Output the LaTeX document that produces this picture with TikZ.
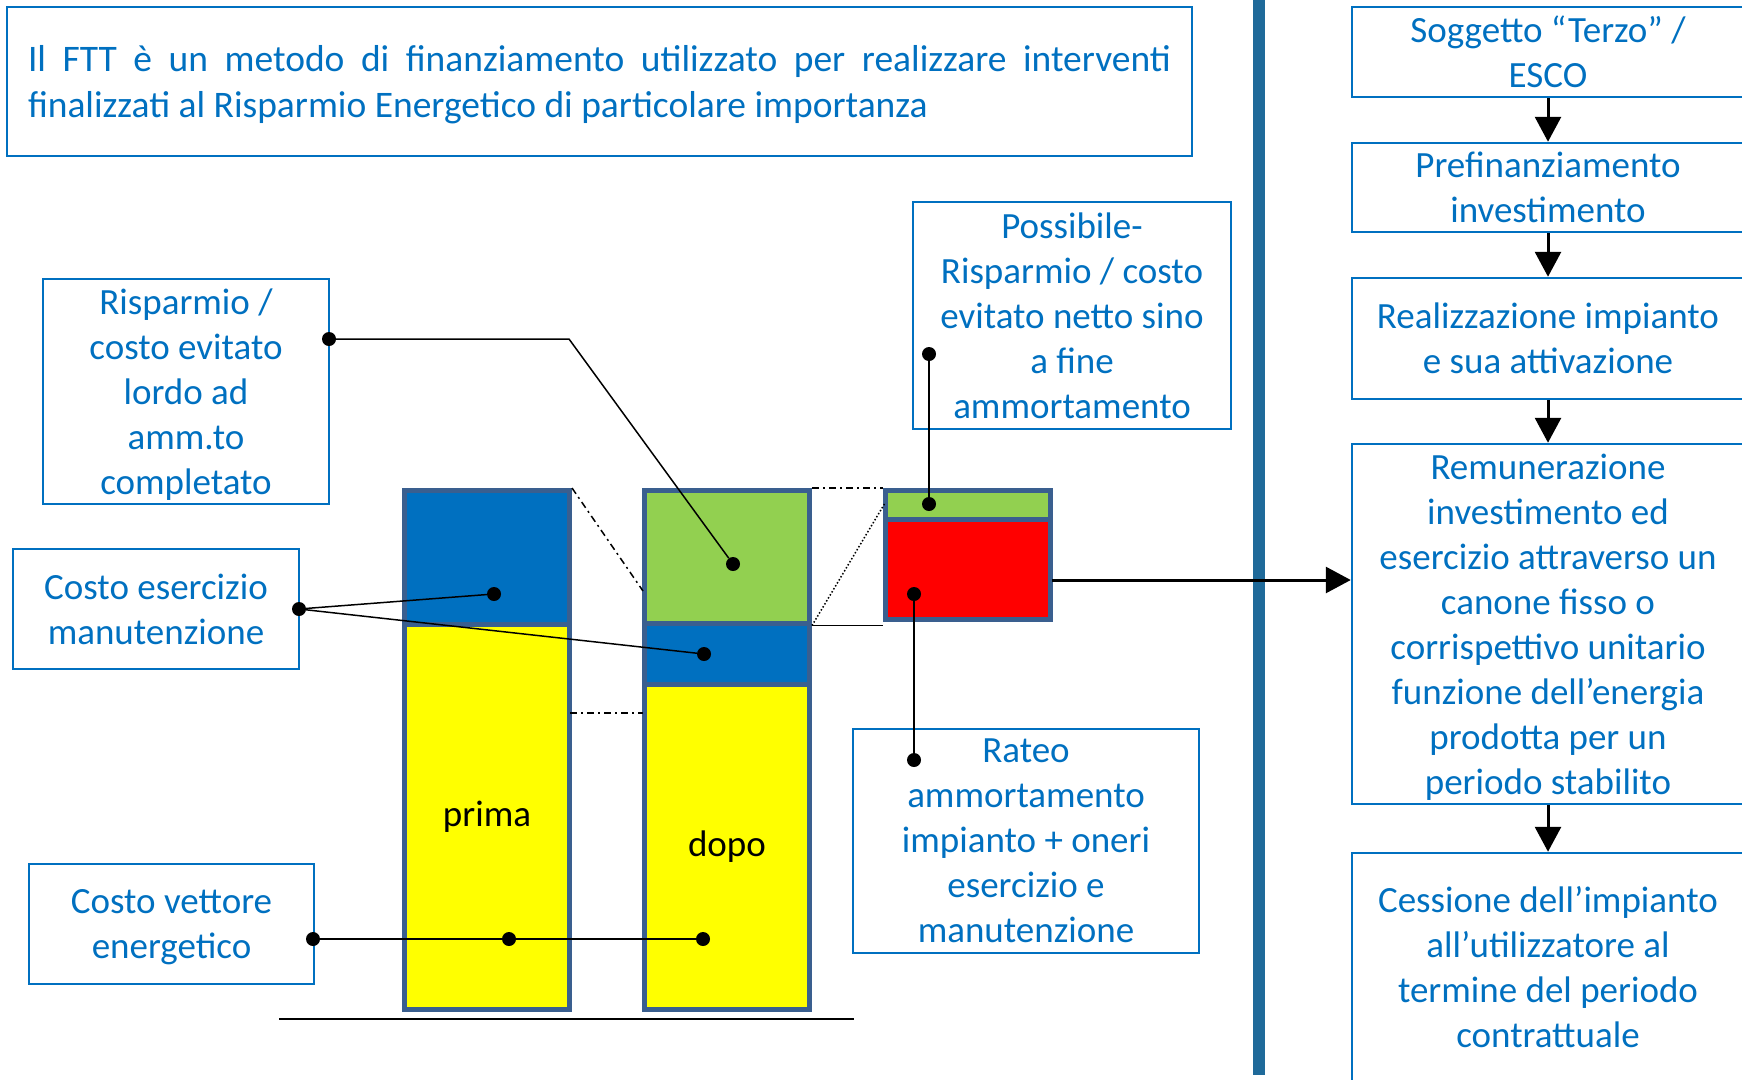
\documentclass[tikz,border=0pt]{standalone}
\usepackage{fontspec}
\setmainfont{Carlito}
\usetikzlibrary{arrows.meta}

\definecolor{testo}{HTML}{0070C0}
\definecolor{bordo}{HTML}{3A5F8F}
\definecolor{barBlu}{HTML}{0070C0}
\definecolor{barVerde}{HTML}{92D050}
\definecolor{barGiallo}{HTML}{FFFF00}
\definecolor{barRosso}{HTML}{FF0000}
\definecolor{separa}{HTML}{1F6A9A}

\tikzset{
  riquadro/.style={draw=testo, line width=2.5pt, text=testo, align=center, inner sep=0pt, text depth=0pt, font=\fontsize{37}{45}\selectfont},
  barra/.style={draw=bordo, line width=5pt, inner sep=0pt, minimum width=165pt, font=\fontsize{37}{45}\selectfont},
  punto/.style={circle, fill=black, inner sep=0pt, minimum size=14pt},
  filo/.style={line width=1.5pt},
  freccia/.style={line width=3pt, -{Triangle[width=26pt,length=25pt]}},
  tratto/.style={line width=1.5pt, dash pattern=on 7pt off 4pt on 2pt off 4pt},
}

\begin{document}
\begin{tikzpicture}[x=1pt, y=-1pt]
\clip (0,0) rectangle (1742,1079);
\useasboundingbox (0,0) rectangle (1742,1079);

\fill[separa] (1253,0) rectangle (1265,1075);

\node[riquadro, align=justify, text width=1143pt, text depth=45.5pt, minimum width=1185pt, minimum height=149pt,
  font=\fontsize{37.5}{45.5}\selectfont] (intro) at (599.5,81.5)
  {Il FTT è un metodo di finanziamento utilizzato per realizzare interventi\linebreak finalizzati al Risparmio Energetico di particolare importanza};

% riquadri a sinistra
\node[riquadro, minimum width=286pt, minimum height=225pt] (risp) at (186,391.5)
  {Risparmio /\\costo evitato\\lordo ad\\amm.to\\completato};
\node[riquadro, minimum width=286pt, minimum height=120pt] (eserc) at (156,609)
  {Costo esercizio\\manutenzione};
\node[riquadro, minimum width=285pt, minimum height=120pt] (vett) at (171.5,924)
  {Costo vettore\\energetico};
\node[riquadro, minimum width=318pt, minimum height=227pt] (poss) at (1072,315.5)
  {Possibile-\\Risparmio / costo\\evitato netto sino\\a fine\\ammortamento};
\node[riquadro, minimum width=346pt, minimum height=224pt] (rateo) at (1026,841)
  {Rateo\\ammortamento\\impianto + oneri\\esercizio e\\manutenzione};

% barre
\node[barra, fill=barBlu, minimum height=133.5pt] (primaBlu) at (487,557.25) {};
\node[barra, fill=barGiallo, minimum height=385.5pt] (primaGiallo) at (487,816.75) {\raisebox{-4pt}{prima}};
\node[barra, fill=barVerde, minimum height=132.5pt] (dopoVerde) at (727,556.75) {};
\node[barra, fill=barBlu, minimum height=61pt] (dopoBlu) at (727,653.5) {};
\node[barra, fill=barGiallo, minimum height=325.5pt] (dopoGiallo) at (727,846.75) {\raisebox{-4pt}{dopo}};
\node[barra, fill=barVerde, minimum height=28.5pt] (quotaVerde) at (967.5,504.75) {};
\node[barra, fill=barRosso, minimum height=100.5pt] (quotaRosso) at (967.5,569.25) {};
\draw[line width=2.5pt] (279,1019) -- (854,1019);

% sequenza a destra
\node[riquadro, minimum width=392pt, minimum height=90pt] (terzo) at (1548,52)
  {Soggetto “Terzo” /\\ESCO};
\node[riquadro, minimum width=392pt, minimum height=89pt] (prefin) at (1548,187.5)
  {Prefinanziamento\\investimento};
\node[riquadro, minimum width=392pt, minimum height=121pt] (realiz) at (1548,338.5)
  {Realizzazione impianto\\e sua attivazione};
\node[riquadro, minimum width=392pt, minimum height=360pt] (remun) at (1548,624)
  {Remunerazione\\investimento ed\\esercizio attraverso un\\canone fisso o\\corrispettivo unitario\\funzione dell’energia\\prodotta per un\\periodo stabilito};
\node[riquadro, minimum width=392pt, minimum height=228pt] (cessione) at (1548,967)
  {Cessione dell’impianto\\all’utilizzatore al\\termine del periodo\\contrattuale};

\draw[freccia] (terzo) -- (prefin);
\draw[freccia] (prefin) -- (realiz);
\draw[freccia] (realiz) -- (remun);
\draw[freccia] (remun) -- (cessione);

% punti
\node[punto] (dRisp) at (329,339) {};
\node[punto] (dVerde) at (733,564) {};
\node[punto] (dEserc) at (299,609) {};
\node[punto] (dPrimaBlu) at (494,594) {};
\node[punto] (dDopoBlu) at (704,654) {};
\node[punto] (dVett) at (313,939) {};
\node[punto] (dPrimaGiallo) at (509,939) {};
\node[punto] (dDopoGiallo) at (703,939) {};
\node[punto] (dPoss) at (929,354) {};
\node[punto] (dQuotaVerde) at (929,504) {};
\node[punto] (dRateo) at (914,760) {};
\node[punto] (dRosso) at (914,594) {};

\coordinate (gomito) at (569,339);
\coordinate (fineAlto) at (643,591);
\coordinate (iniBasso) at (570,713);
\coordinate (fineBasso) at (643,713);
\coordinate (finePunti) at (885,503);
\coordinate (partenza) at (1052,580);

\draw[filo] (dRisp) -- (gomito) -- (dVerde);
\draw[filo] (dEserc) -- (dPrimaBlu);
\draw[filo] (dEserc) -- (dDopoBlu);
\draw[filo] (dVett) -- (dPrimaGiallo) -- (dDopoGiallo);
\draw[filo] (dPoss) -- (dQuotaVerde);
\draw[filo] (dRateo) -- (dRosso);

\draw[tratto] (primaBlu.north east) -- (fineAlto);
\draw[tratto] (iniBasso) -- (fineBasso);
\draw[tratto] (dopoVerde.north east) -- (quotaVerde.north west);
\draw[line width=1.5pt, dotted] (dopoVerde.south east) -- (finePunti);
\draw[line width=1.5pt] (dopoVerde.south east) -- (quotaRosso.south west |- dopoVerde.south east);
\draw[freccia] (partenza) -- (remun.west |- partenza);
\end{tikzpicture}
\end{document}
